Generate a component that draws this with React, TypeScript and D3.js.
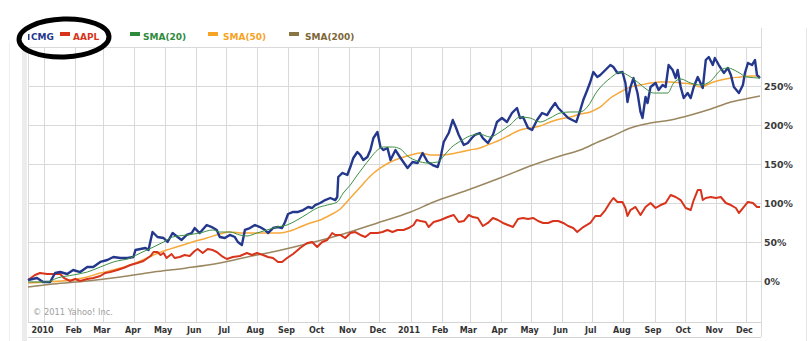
import React from "react";
import * as d3 from "d3";

type P = [string, number];

const cmg: P[] = [
  ["2009-12-16", 1.3], ["2009-12-25", 3.8], ["2009-12-31", -1.3], ["2010-01-07", -1.3], ["2010-01-12", 10.3],
  ["2010-01-17", 11.5], ["2010-01-24", 9.0], ["2010-01-30", 14.1], ["2010-02-06", 11.5], ["2010-02-13", 17.9],
  ["2010-02-19", 17.9], ["2010-02-26", 24.4], ["2010-03-05", 26.9], ["2010-03-11", 30.8], ["2010-03-18", 29.5],
  ["2010-03-25", 29.5], ["2010-03-31", 30.8], ["2010-04-02", 39.7], ["2010-04-07", 41.0], ["2010-04-12", 42.3],
  ["2010-04-15", 39.7], ["2010-04-19", 62.8], ["2010-04-24", 56.4], ["2010-04-30", 55.1], ["2010-05-04", 50.0],
  ["2010-05-09", 61.5], ["2010-05-14", 56.4], ["2010-05-18", 52.6], ["2010-05-23", 59.0], ["2010-05-28", 61.5],
  ["2010-05-31", 67.9], ["2010-06-05", 61.5], ["2010-06-12", 71.8], ["2010-06-17", 69.2], ["2010-06-22", 65.4],
  ["2010-06-25", 56.4], ["2010-06-30", 55.1], ["2010-07-05", 59.0], ["2010-07-10", 56.4], ["2010-07-13", 50.0],
  ["2010-07-17", 46.2], ["2010-07-20", 65.4], ["2010-07-25", 67.9], ["2010-07-30", 71.8], ["2010-08-04", 69.2],
  ["2010-08-09", 65.4], ["2010-08-12", 61.5], ["2010-08-17", 67.9], ["2010-08-22", 69.2], ["2010-08-26", 67.9],
  ["2010-08-29", 75.6], ["2010-09-01", 85.9], ["2010-09-06", 88.5], ["2010-09-11", 88.5], ["2010-09-16", 91.0],
  ["2010-09-21", 94.9], ["2010-09-25", 93.6], ["2010-09-28", 97.4], ["2010-10-03", 100], ["2010-10-08", 103.8],
  ["2010-10-13", 106.4], ["2010-10-18", 103.8], ["2010-10-20", 107.7], ["2010-10-21", 133.3], ["2010-10-25", 138.5],
  ["2010-10-30", 135.9], ["2010-11-02", 146.1], ["2010-11-05", 157.7], ["2010-11-09", 165.4], ["2010-11-12", 161.5],
  ["2010-11-15", 155.1], ["2010-11-19", 159.0], ["2010-11-22", 167.9], ["2010-11-25", 183.3], ["2010-11-29", 191.0],
  ["2010-12-02", 171.8], ["2010-12-05", 167.9], ["2010-12-09", 170.5], ["2010-12-12", 155.1], ["2010-12-17", 167.9],
  ["2010-12-22", 157.7], ["2010-12-29", 144.9], ["2011-01-03", 152.6], ["2011-01-08", 151.3], ["2011-01-13", 164.1],
  ["2011-01-18", 152.6], ["2011-01-23", 148.7], ["2011-01-28", 146.1], ["2011-01-31", 159.0], ["2011-02-03", 178.2],
  ["2011-02-08", 189.7], ["2011-02-12", 206.4], ["2011-02-15", 197.4], ["2011-02-18", 187.2], ["2011-02-23", 174.4],
  ["2011-02-27", 176.9], ["2011-03-03", 183.3], ["2011-03-06", 187.2], ["2011-03-11", 189.7], ["2011-03-14", 183.3],
  ["2011-03-19", 176.9], ["2011-03-24", 187.2], ["2011-03-28", 203.8], ["2011-04-02", 209.0], ["2011-04-07", 203.8],
  ["2011-04-12", 215.4], ["2011-04-17", 221.8], ["2011-04-20", 209.0], ["2011-04-23", 210.2], ["2011-04-28", 196.1],
  ["2011-05-02", 193.6], ["2011-05-07", 206.4], ["2011-05-12", 215.4], ["2011-05-17", 212.8], ["2011-05-20", 219.2],
  ["2011-05-25", 228.2], ["2011-05-28", 221.8], ["2011-06-02", 215.4], ["2011-06-07", 209.0], ["2011-06-11", 206.4],
  ["2011-06-15", 203.8], ["2011-06-19", 219.2], ["2011-06-22", 232.0], ["2011-06-26", 244.9], ["2011-06-29", 255.1],
  ["2011-07-02", 267.9], ["2011-07-06", 261.5], ["2011-07-09", 264.1], ["2011-07-14", 270.5], ["2011-07-19", 276.9],
  ["2011-07-22", 274.3], ["2011-07-26", 266.7], ["2011-07-31", 267.9], ["2011-08-03", 253.8], ["2011-08-05", 229.5],
  ["2011-08-08", 248.7], ["2011-08-11", 260.2], ["2011-08-15", 241.0], ["2011-08-18", 216.7], ["2011-08-20", 209.0],
  ["2011-08-23", 235.9], ["2011-08-25", 228.2], ["2011-08-28", 248.7], ["2011-09-02", 253.8], ["2011-09-05", 244.9],
  ["2011-09-09", 251.3], ["2011-09-12", 248.7], ["2011-09-15", 276.9], ["2011-09-19", 270.5], ["2011-09-22", 260.2],
  ["2011-09-24", 270.5], ["2011-09-27", 248.7], ["2011-09-30", 234.6], ["2011-10-04", 241.0], ["2011-10-07", 234.6],
  ["2011-10-10", 248.7], ["2011-10-14", 261.5], ["2011-10-19", 247.4], ["2011-10-22", 283.3], ["2011-10-25", 287.2],
  ["2011-10-29", 276.9], ["2011-10-31", 285.9], ["2011-11-04", 276.9], ["2011-11-09", 266.7], ["2011-11-13", 273.1],
  ["2011-11-16", 264.1], ["2011-11-19", 248.7], ["2011-11-24", 241.0], ["2011-11-28", 251.3], ["2011-11-30", 266.7],
  ["2011-12-03", 279.5], ["2011-12-07", 276.9], ["2011-12-10", 283.3], ["2011-12-12", 264.1], ["2011-12-15", 260.2],
];

const aapl: P[] = [
  ["2009-12-16", 1.3], ["2009-12-23", 7.7], ["2009-12-28", 10.3], ["2010-01-04", 9.0], ["2010-01-10", 9.0],
  ["2010-01-17", 9.0], ["2010-01-21", 3.8], ["2010-01-27", 0], ["2010-02-01", 2.6], ["2010-02-06", 0],
  ["2010-02-13", 2.6], ["2010-02-19", 3.8], ["2010-02-26", 6.4], ["2010-03-03", 10.3], ["2010-03-08", 11.5],
  ["2010-03-15", 14.1], ["2010-03-21", 16.7], ["2010-03-28", 20.5], ["2010-04-04", 23.1], ["2010-04-10", 25.6],
  ["2010-04-17", 32.0], ["2010-04-20", 37.2], ["2010-04-24", 37.2], ["2010-04-27", 33.3], ["2010-04-30", 35.9],
  ["2010-05-03", 29.5], ["2010-05-08", 34.6], ["2010-05-11", 29.5], ["2010-05-16", 30.8], ["2010-05-21", 33.3],
  ["2010-05-26", 32.0], ["2010-05-31", 38.5], ["2010-06-03", 41.0], ["2010-06-08", 35.9], ["2010-06-13", 41.0],
  ["2010-06-18", 39.7], ["2010-06-22", 37.2], ["2010-06-27", 32.0], ["2010-07-02", 28.2], ["2010-07-08", 30.8],
  ["2010-07-15", 32.0], ["2010-07-22", 35.9], ["2010-07-27", 33.3], ["2010-08-01", 35.9], ["2010-08-07", 33.3],
  ["2010-08-12", 30.8], ["2010-08-17", 29.5], ["2010-08-22", 24.4], ["2010-08-26", 24.4], ["2010-08-31", 29.5],
  ["2010-09-06", 34.6], ["2010-09-13", 42.3], ["2010-09-20", 48.7], ["2010-09-25", 50.0], ["2010-09-30", 43.6],
  ["2010-10-05", 50.0], ["2010-10-10", 52.6], ["2010-10-15", 61.5], ["2010-10-18", 59.0], ["2010-10-23", 59.0],
  ["2010-10-28", 55.1], ["2010-11-02", 61.5], ["2010-11-07", 62.8], ["2010-11-12", 59.0], ["2010-11-17", 56.4],
  ["2010-11-22", 61.5], ["2010-11-29", 61.5], ["2010-12-04", 62.8], ["2010-12-09", 65.4], ["2010-12-14", 62.8],
  ["2010-12-19", 65.4], ["2010-12-25", 65.4], ["2010-12-30", 67.9], ["2011-01-04", 71.8], ["2011-01-07", 78.2],
  ["2011-01-11", 76.9], ["2011-01-16", 75.6], ["2011-01-19", 69.2], ["2011-01-24", 75.6], ["2011-01-31", 78.2],
  ["2011-02-07", 82.0], ["2011-02-13", 84.6], ["2011-02-18", 75.6], ["2011-02-23", 76.9], ["2011-02-28", 84.6],
  ["2011-03-04", 82.0], ["2011-03-09", 80.8], ["2011-03-14", 70.5], ["2011-03-19", 74.4], ["2011-03-24", 80.8],
  ["2011-03-29", 78.2], ["2011-04-03", 74.4], ["2011-04-08", 71.8], ["2011-04-13", 69.2], ["2011-04-18", 79.5],
  ["2011-04-23", 80.8], ["2011-04-28", 79.5], ["2011-05-03", 80.8], ["2011-05-08", 76.9], ["2011-05-13", 74.4],
  ["2011-05-18", 74.4], ["2011-05-23", 76.9], ["2011-05-28", 76.9], ["2011-06-02", 74.4], ["2011-06-07", 70.5],
  ["2011-06-12", 67.9], ["2011-06-16", 62.8], ["2011-06-22", 69.2], ["2011-06-29", 74.4], ["2011-07-04", 83.3],
  ["2011-07-09", 83.3], ["2011-07-14", 91.0], ["2011-07-19", 101.3], ["2011-07-22", 106.4], ["2011-07-26", 101.3],
  ["2011-07-31", 101.3], ["2011-08-03", 93.6], ["2011-08-05", 83.3], ["2011-08-08", 91.0], ["2011-08-13", 94.9],
  ["2011-08-18", 84.6], ["2011-08-23", 94.9], ["2011-08-28", 100], ["2011-09-02", 93.6], ["2011-09-07", 97.4],
  ["2011-09-12", 100], ["2011-09-17", 110.3], ["2011-09-22", 107.7], ["2011-09-27", 103.8], ["2011-10-02", 93.6],
  ["2011-10-07", 91.0], ["2011-10-10", 103.8], ["2011-10-14", 116.6], ["2011-10-17", 116.6], ["2011-10-19", 103.8],
  ["2011-10-22", 106.4], ["2011-10-27", 107.7], ["2011-11-01", 106.4], ["2011-11-06", 107.7], ["2011-11-11", 100],
  ["2011-11-16", 97.4], ["2011-11-21", 93.6], ["2011-11-24", 87.2], ["2011-11-29", 94.9], ["2011-12-03", 101.3],
  ["2011-12-08", 100], ["2011-12-12", 94.9], ["2011-12-15", 94.9],
];

const sma20: P[] = [
  ["2009-12-16", -1.3], ["2010-01-04", -1.3], ["2010-01-14", 3.8], ["2010-01-30", 7.7], ["2010-02-13", 11.5],
  ["2010-02-26", 17.9], ["2010-03-11", 24.4], ["2010-03-28", 29.5], ["2010-04-07", 35.9], ["2010-04-20", 43.6],
  ["2010-04-30", 50.0], ["2010-05-09", 56.4], ["2010-05-23", 59.0], ["2010-06-05", 61.5], ["2010-06-18", 65.4],
  ["2010-06-25", 62.8], ["2010-07-05", 62.8], ["2010-07-15", 59.0], ["2010-07-22", 57.7], ["2010-08-01", 61.5],
  ["2010-08-11", 65.4], ["2010-08-21", 69.2], ["2010-08-31", 71.8], ["2010-09-10", 78.2], ["2010-09-20", 85.9],
  ["2010-09-30", 93.6], ["2010-10-10", 97.4], ["2010-10-20", 101.3], ["2010-10-26", 112.8], ["2010-11-02", 123.1],
  ["2010-11-09", 135.9], ["2010-11-15", 146.1], ["2010-11-22", 157.7], ["2010-11-29", 167.9], ["2010-12-05", 171.8],
  ["2010-12-14", 171.8], ["2010-12-22", 169.2], ["2010-12-29", 160.2], ["2011-01-08", 153.8], ["2011-01-18", 151.3],
  ["2011-01-28", 152.6], ["2011-02-03", 160.2], ["2011-02-10", 170.5], ["2011-02-20", 179.5], ["2011-03-01", 185.9],
  ["2011-03-11", 188.4], ["2011-03-21", 184.6], ["2011-03-31", 191.0], ["2011-04-10", 200], ["2011-04-20", 210.2],
  ["2011-04-30", 209.0], ["2011-05-10", 203.8], ["2011-05-20", 209.0], ["2011-05-30", 215.4], ["2011-06-09", 216.7],
  ["2011-06-19", 216.7], ["2011-06-26", 223.1], ["2011-07-06", 243.6], ["2011-07-19", 260.2], ["2011-07-29", 267.9],
  ["2011-08-05", 264.1], ["2011-08-15", 255.1], ["2011-08-25", 244.9], ["2011-08-31", 241.0], ["2011-09-14", 241.0],
  ["2011-09-20", 253.8], ["2011-09-27", 259.0], ["2011-10-07", 253.8], ["2011-10-17", 251.3], ["2011-10-27", 256.4],
  ["2011-11-06", 270.5], ["2011-11-13", 273.1], ["2011-11-23", 267.9], ["2011-12-02", 261.5], ["2011-12-15", 260.2],
];

const sma50: P[] = [
  ["2009-12-16", -2.6], ["2010-01-04", -1.3], ["2010-01-27", 1.3], ["2010-02-13", 5.1], ["2010-02-26", 10.3],
  ["2010-03-11", 14.1], ["2010-03-25", 19.2], ["2010-04-07", 25.6], ["2010-04-20", 33.3], ["2010-05-03", 39.7],
  ["2010-05-16", 44.9], ["2010-05-29", 50.0], ["2010-06-12", 55.1], ["2010-06-25", 60.3], ["2010-07-05", 62.8],
  ["2010-07-18", 61.5], ["2010-07-28", 61.5], ["2010-08-11", 61.5], ["2010-08-24", 61.5], ["2010-09-03", 64.1],
  ["2010-09-13", 69.2], ["2010-09-23", 74.4], ["2010-10-03", 78.2], ["2010-10-13", 84.6], ["2010-10-23", 92.3],
  ["2010-11-02", 106.4], ["2010-11-12", 120.5], ["2010-11-22", 134.6], ["2010-12-02", 144.9], ["2010-12-12", 152.6],
  ["2010-12-22", 157.7], ["2011-01-01", 161.5], ["2011-01-11", 164.1], ["2011-01-21", 161.5], ["2011-01-31", 161.5],
  ["2011-02-10", 162.8], ["2011-02-20", 165.4], ["2011-03-01", 167.9], ["2011-03-11", 170.5], ["2011-03-21", 175.6],
  ["2011-03-31", 180.8], ["2011-04-10", 187.2], ["2011-04-20", 193.6], ["2011-04-30", 196.1], ["2011-05-10", 198.7],
  ["2011-05-20", 203.8], ["2011-05-30", 207.7], ["2011-06-09", 210.2], ["2011-06-19", 214.1], ["2011-06-29", 216.7],
  ["2011-07-09", 223.1], ["2011-07-19", 234.6], ["2011-07-29", 242.3], ["2011-08-08", 248.7], ["2011-08-18", 251.3],
  ["2011-08-28", 253.8], ["2011-09-07", 255.1], ["2011-09-17", 255.1], ["2011-09-27", 253.8], ["2011-10-07", 252.6],
  ["2011-10-17", 248.7], ["2011-10-27", 253.8], ["2011-11-06", 257.7], ["2011-11-16", 260.2], ["2011-11-26", 261.5],
  ["2011-12-05", 262.8], ["2011-12-15", 262.8],
];

const sma200: P[] = [
  ["2009-12-16", -7.7], ["2010-01-10", -3.8], ["2010-02-13", 0], ["2010-03-18", 5.1], ["2010-04-20", 11.5],
  ["2010-05-23", 16.7], ["2010-06-25", 23.1], ["2010-07-18", 29.5], ["2010-08-21", 38.5], ["2010-09-23", 48.7],
  ["2010-10-26", 60.3], ["2010-11-29", 74.4], ["2011-01-01", 88.5], ["2011-01-24", 101.3], ["2011-02-27", 116.6],
  ["2011-03-31", 132.0], ["2011-05-03", 148.7], ["2011-05-30", 160.2], ["2011-06-19", 167.9], ["2011-07-09", 179.5],
  ["2011-07-19", 184.6], ["2011-08-08", 196.1], ["2011-08-28", 202.6], ["2011-09-17", 206.4], ["2011-10-07", 212.8],
  ["2011-10-27", 220.5], ["2011-11-16", 229.5], ["2011-12-05", 234.6], ["2011-12-15", 237.2],
];

const yTicks = [0, 50, 100, 150, 200, 250];
const legendItems = [
  { label: "CMG", color: "#23388c", text: "#23388c" },
  { label: "AAPL", color: "#d8341c", text: "#d8341c" },
  { label: "SMA(20)", color: "#2f8a3c", text: "#2f8a3c" },
  { label: "SMA(50)", color: "#f7a325", text: "#f7a325" },
  { label: "SMA(200)", color: "#8a7545", text: "#7d6738" },
];

export default function App() {
  const W = 808, H = 341;
  const left = 28, right = 761, top = 47, bottom = 322;
  const parse = d3.timeParse("%Y-%m-%d");
  const x = d3.scaleTime().domain([new Date(2009, 11, 16), new Date(2011, 11, 16)]).range([left, right]);
  const y = d3.scaleLinear().domain([0, 300]).range([281, top]);

  const mk = (data: P[], curve: d3.CurveFactory) =>
    d3.line<P>().x(d => x(parse(d[0]) as Date)).y(d => y(d[1])).curve(curve)(data) || "";

  const months = d3.timeMonth.range(new Date(2010, 0, 1), new Date(2011, 11, 2));
  const fmt = (d: Date) => (d.getMonth() === 0 ? d3.timeFormat("%Y")(d) : d3.timeFormat("%b")(d));

  const swX = [28, 60, 130, 208, 289];
  const swW = [1.5, 10, 10, 10, 10];
  const swY = [34, 32, 32, 32, 32];
  const swH = [6, 4, 4, 4, 4];
  const txX = [31, 73, 143, 223, 305];

  return (
    <svg width={W} height={H} style={{ position: "absolute", left: 0, top: 0, background: "#fff" }}
      fontFamily="'DejaVu Sans', Verdana, sans-serif">
      <rect x={0} y={0} width={W} height={H} fill="#fff" />
      {/* frame decorations */}
      <line x1={9.5} y1={42} x2={9.5} y2={H} stroke="#eeeeee" />
      <rect x={22} y={47} width={5} height={H - 47} fill="#ececec" />
      <line x1={806.5} y1={28} x2={806.5} y2={H} stroke="#e6e6e6" />
      {/* grid */}
      {months.map((m, i) => (
        <line key={"v" + i} x1={Math.round(x(m)) + 0.5} x2={Math.round(x(m)) + 0.5} y1={top} y2={bottom} stroke="#d9d9d9" />
      ))}
      <line x1={left + 0.5} x2={left + 0.5} y1={top} y2={bottom} stroke="#d9d9d9" />
      <line x1={right + 0.5} x2={right + 0.5} y1={28} y2={337} stroke="#d9d9d9" />
      {[...yTicks, 300].map(t => (
        <line key={"h" + t} x1={t === 300 ? 22 : left} x2={right} y1={Math.round(y(t)) + 0.5} y2={Math.round(y(t)) + 0.5} stroke="#d9d9d9" />
      ))}
      <line x1={left} x2={right} y1={bottom + 0.5} y2={bottom + 0.5} stroke="#d4d4d4" />
      <line x1={left} x2={right} y1={337.5} y2={337.5} stroke="#d4d4d4" />
      {/* copyright */}
      <text x={33} y={315} fontSize={8.3} fill="#a0a0a0">© 2011 Yahoo! Inc.</text>
      {/* series */}
      <path d={mk(sma200, d3.curveMonotoneX)} fill="none" stroke="#9a8760" strokeWidth={1.5} />
      <path d={mk(sma50, d3.curveMonotoneX)} fill="none" stroke="#f7a83a" strokeWidth={1.5} />
      <path d={mk(aapl, d3.curveLinear)} fill="none" stroke="#d8341c" strokeWidth={2} strokeLinejoin="round" />
      <path d={mk(cmg, d3.curveLinear)} fill="none" stroke="#23388c" strokeWidth={2.4} strokeLinejoin="round" />
      <path d={mk(sma20, d3.curveMonotoneX)} fill="none" stroke="#3d8f45" strokeWidth={1} />
      {/* y labels */}
      {yTicks.map(t => (
        <text key={"yl" + t} x={764} y={y(t) + 3.5} fontSize={9.4} fontWeight="bold" fill="#3a3a3a">{t}%</text>
      ))}
      {/* x labels */}
      {months.map((m, i) => (
        <text key={"xl" + i} x={x(m) - 1.5} y={333} fontSize={8} fontWeight="bold" fill="#333" textAnchor="middle">{fmt(m)}</text>
      ))}
      {/* legend */}
      {legendItems.map((it, i) => (
        <g key={it.label}>
          <rect x={swX[i]} y={swY[i]} width={swW[i]} height={swH[i]} fill={it.color} />
          <text x={txX[i]} y={40} fontSize={9} fontWeight="bold" fill={it.text}>{it.label}</text>
        </g>
      ))}
      {/* hand-drawn ellipse */}
      <ellipse cx={64} cy={38} rx={45} ry={19} fill="none" stroke="#000" strokeWidth={5} transform="rotate(-2 64 38)" />
    </svg>
  );
}
